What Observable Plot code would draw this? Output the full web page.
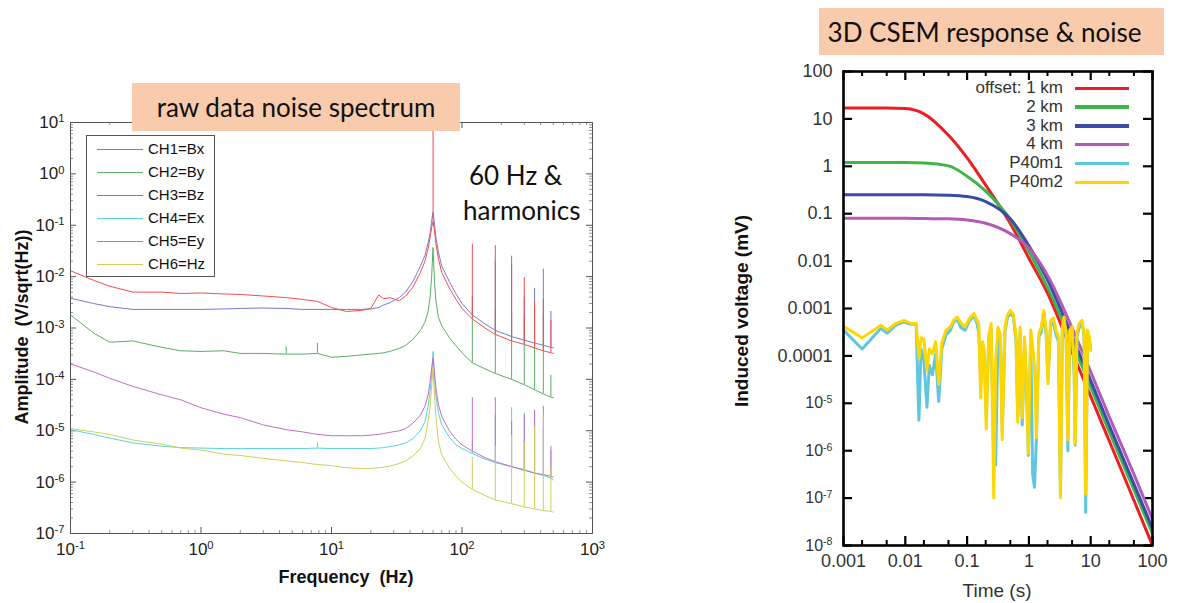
<!DOCTYPE html>
<html><head><meta charset="utf-8">
<script src="https://cdn.jsdelivr.net/npm/d3@7"></script>
<script src="https://cdn.jsdelivr.net/npm/@observablehq/plot@0.6"></script>
<style>
body{margin:0;background:#fff;}
#wrap{position:relative;width:1177px;height:603px;overflow:hidden;font-family:"Liberation Sans",Arial,sans-serif;}
.abs{position:absolute;}
.tbox{position:absolute;background:#F8CBAD;font-family:Lato,sans-serif;font-size:26px;color:#111;display:flex;align-items:center;justify-content:center;white-space:pre;}
.lab{position:absolute;white-space:pre;transform:translate(-50%,-50%);color:#111;}
.note{position:absolute;font-family:Lato,sans-serif;font-size:26px;line-height:30px;color:#111;white-space:pre;}
</style></head><body><div id="wrap"></div>
<script>
// ---------- left panel: raw data noise spectrum ----------
const freqHz = [0.1,0.15,0.2,0.3,0.5,0.7,1,1.5,2,3,4.5,6,7.8,10,13,17,20,23,25,28,33,37,42,48,52,55,57,58.5,60,61.5,63,66,70,80,90,100,120,150,180,240,300,360,420,480,500];
const ch1Bx = [3.8e-3,3.0e-3,2.6e-3,2.3e-3,2.3e-3,2.3e-3,2.3e-3,2.35e-3,2.4e-3,2.45e-3,2.4e-3,2.3e-3,2.3e-3,2.3e-3,2.3e-3,2.3e-3,2.35e-3,2.5e-3,2.8e-3,3.1e-3,3.9e-3,5e-3,8e-3,1.6e-2,2.6e-2,4.5e-2,7e-2,1.2e-1,1.8e-1,1.1e-1,6e-2,3e-2,1.6e-2,8e-3,4.6e-3,3.0e-3,1.8e-3,1.2e-3,9e-4,6.8e-4,5.8e-4,5.1e-4,4.6e-4,4.2e-4,4.1e-4];
const ch2By = [1.8e-3,8e-4,5.3e-4,5.6e-4,4.2e-4,3.6e-4,3.5e-4,3.6e-4,3.2e-4,3.2e-4,3.1e-4,3.1e-4,3.2e-4,2.7e-4,2.8e-4,3.0e-4,3.1e-4,3.2e-4,3.3e-4,3.5e-4,4.0e-4,4.6e-4,6e-4,9e-4,1.3e-3,2.1e-3,4e-3,1e-2,3.7e-2,8e-3,3.5e-3,1.6e-3,1.1e-3,6.5e-4,4.5e-4,3.3e-4,2.1e-4,1.6e-4,1.3e-4,1.0e-4,7.9e-5,6.3e-5,5.2e-5,4.5e-5,4.4e-5];
const ch3Bz = [1.3e-2,8.5e-3,6.5e-3,5.0e-3,5.0e-3,4.7e-3,4.8e-3,4.6e-3,4.5e-3,4.2e-3,3.9e-3,3.6e-3,3.3e-3,2.5e-3,2.1e-3,2.2e-3,2.4e-3,4.4e-3,3.7e-3,3.9e-3,3.4e-3,4.2e-3,6.2e-3,1.2e-2,2e-2,3.5e-2,6e-2,9e-2,1.2e-1,8e-2,4.5e-2,2.2e-2,1.2e-2,6e-3,3.6e-3,2.4e-3,1.5e-3,1.0e-3,7.5e-4,5.6e-4,4.8e-4,4.1e-4,3.6e-4,3.3e-4,3.2e-4];
const ch4Ex = [1.05e-5,8.5e-6,7.2e-6,5.8e-6,5.0e-6,4.7e-6,4.6e-6,4.5e-6,4.5e-6,4.5e-6,4.5e-6,4.5e-6,4.6e-6,4.5e-6,4.5e-6,4.5e-6,4.5e-6,4.6e-6,4.7e-6,4.9e-6,5.3e-6,5.8e-6,7e-6,1.0e-5,1.5e-5,3e-5,6e-5,1.2e-4,3.5e-4,1.1e-4,5e-5,2.2e-5,1.3e-5,7.5e-6,5.3e-6,4.5e-6,3.6e-6,2.8e-6,2.4e-6,2.0e-6,1.75e-6,1.5e-6,1.35e-6,1.2e-6,1.1e-6];
const ch5Ey = [2.0e-4,1.4e-4,1.05e-4,7.3e-5,5.0e-5,4.0e-5,2.8e-5,2.1e-5,1.8e-5,1.3e-5,1.05e-5,9.5e-6,8.5e-6,8.0e-6,8.0e-6,8.0e-6,8.2e-6,8.5e-6,8.8e-6,9.3e-6,1.0e-5,1.1e-5,1.4e-5,2.0e-5,3.0e-5,5e-5,9e-5,1.6e-4,2.6e-4,1.4e-4,7e-5,3.2e-5,1.9e-5,1.0e-5,6.8e-6,5.3e-6,4.0e-6,3.0e-6,2.5e-6,2.0e-6,1.7e-6,1.5e-6,1.4e-6,1.3e-6,1.25e-6];
const ch6Hz = [1.1e-5,9.5e-6,8.5e-6,6.6e-6,5.5e-6,4.6e-6,4.2e-6,3.5e-6,3.3e-6,2.9e-6,2.6e-6,2.4e-6,2.2e-6,2.1e-6,1.9e-6,1.85e-6,1.85e-6,1.9e-6,1.95e-6,2.05e-6,2.3e-6,2.6e-6,3.2e-6,4.5e-6,7e-6,1.5e-5,3e-5,7e-5,1.7e-4,5e-5,2e-5,6e-6,3.4e-6,1.9e-6,1.3e-6,1.0e-6,7.2e-7,5.5e-7,4.5e-7,3.8e-7,3.3e-7,3.0e-7,2.8e-7,2.7e-7,2.6e-7];
const chNames = ["CH1=Bx","CH2=By","CH3=Bz","CH4=Ex","CH5=Ey","CH6=Hz"];
const chColors = ["#757BD0","#5BAE66","#F24E4E","#5CD2D8","#C46DC7","#CFCF5A"];
const harmonicsHz = [120,180,240,300,360,420,480];
const harmonicPeakBx = [4e-3,2e-2,2.5e-2,4e-3,5.9e-3,1.4e-2,2.1e-3];
const harmonicPeakBy = [2.3e-3,2.3e-3,1.9e-3,1.6e-3,2.3e-3,1.8e-3,1.2e-4];
const harmonicPeakBz = [4.3e-2,4e-2,1.7e-2,9.5e-3,3.2e-3,3.6e-3,1.4e-3];
const harmonicPeakEx = [6e-6,2e-5,2.8e-5,2.2e-5,2.5e-5,1.2e-5,4e-6];
const harmonicPeakEy = [4.4e-5,4.4e-5,1.5e-5,2e-5,2.5e-5,3e-5,5e-6];
const harmonicPeakHz = [3e-6,5e-6,8e-6,6e-6,1.2e-5,2e-5,2e-6];
const extraSpikeChannel = ["CH3=Bz","CH2=By","CH2=By","CH4=Ex"];
const extraSpikeHz = [60,4.5,7.8,7.8];
const extraSpikePeak = [8,4.3e-4,5e-4,5.8e-6];

// ---------- right panel: 3D CSEM response & noise ----------
const timeS = [0.001,0.002,0.005,0.01,0.02,0.05,0.1,0.2,0.5,1,2,5,10,20,50,100];
const offset1km = [17,17,17,16.5,12.8,4.5,1.5,0.40,0.062,0.0115,2.1e-3,1.2e-4,1.4e-5,1.6e-6,9e-8,1.0e-8];
const offset2km = [1.2,1.2,1.2,1.2,1.18,1.02,0.62,0.30,0.075,0.016,2.8e-3,1.9e-4,2.2e-5,2.5e-6,1.5e-7,1.8e-8];
const offset3km = [0.25,0.25,0.25,0.25,0.25,0.245,0.23,0.18,0.078,0.021,4.0e-3,2.6e-4,3.0e-5,3.4e-6,2.0e-7,2.3e-8];
const offset4km = [0.08,0.08,0.08,0.08,0.079,0.078,0.074,0.063,0.038,0.019,5.0e-3,3.9e-4,4.6e-5,5.2e-6,3.2e-7,3.6e-8];
const noiseTimeS = [0.001,0.002,0.004,0.0051,0.0069,0.0095,0.012,0.015,0.0166,0.018,0.02,0.0224,0.0245,0.0275,0.031,0.0347,0.039,0.0457,0.0537,0.06,0.069,0.079,0.093,0.11,0.129,0.145,0.155,0.166,0.178,0.19,0.204,0.224,0.245,0.27,0.29,0.316,0.347,0.37,0.41,0.447,0.5,0.56,0.62,0.66,0.72,0.78,0.85,0.91,0.98,1.07,1.15,1.23,1.32,1.45,1.58,1.74,1.9,2.04,2.24,2.5,2.75,3.0,3.24,3.47,3.7,4.0,4.27,4.57,5.0,5.4,5.6,6.0,6.5,7.2,7.8,8.3,8.9,9.5,10];
const p40m1 = [3.5e-4,1.4e-4,3.8e-4,3.0e-4,4.4e-4,5.2e-4,4.7e-4,4.6e-4,4.4e-6,1.4e-4,
 7.9e-5,8.3e-6,6.3e-5,4.0e-5,1.1e-4,1.1e-5,1.4e-4,2.8e-4,3.5e-4,5.0e-4,
 6.0e-4,4.0e-4,3.5e-4,5.6e-4,7.1e-4,4.8e-4,3.0e-4,2.5e-5,1.6e-4,8.9e-5,
 5.0e-6,2.2e-4,3.8e-4,5.6e-7,5.0e-7,3.2e-4,2.2e-4,2.5e-6,3.2e-4,6.3e-4,
 7.9e-4,6.6e-4,2.0e-4,5.0e-6,3.2e-4,3.5e-6,1.8e-4,2.5e-5,7.9e-7,2.5e-4,
 3.2e-7,1.7e-7,1.6e-6,2.5e-4,3.2e-4,7.9e-4,2.8e-4,3.2e-5,4.5e-4,5.0e-4,
 2.8e-4,2.0e-4,1.3e-7,3.2e-4,5.6e-4,2.5e-4,1.0e-6,2.8e-4,3.5e-4,4.0e-5,
 1.3e-6,2.5e-4,4.0e-4,5.0e-4,2.8e-4,5.0e-8,3.2e-4,2.2e-4,1.4e-4];
const p40m2 = [4.2e-4,2.4e-4,4.4e-4,3.5e-4,4.8e-4,5.6e-4,4.9e-4,4.8e-4,8.9e-5,2.4e-4,
 2.2e-4,5.0e-5,1.4e-4,1.1e-4,2.0e-4,2.5e-5,1.9e-4,3.5e-4,4.1e-4,5.6e-4,
 6.6e-4,5.0e-4,4.1e-4,6.3e-4,7.8e-4,5.6e-4,4.4e-4,1.3e-5,2.0e-4,1.3e-4,
 2.9e-6,2.8e-4,4.8e-4,1.0e-7,7.9e-5,4.0e-4,2.8e-4,1.7e-6,4.0e-4,7.1e-4,
 9.1e-4,7.6e-4,2.5e-4,4.0e-6,4.0e-4,5.0e-6,2.5e-4,3.5e-5,8.7e-7,3.5e-4,
 1.6e-4,6.3e-5,1.9e-6,3.0e-4,4.0e-4,9.1e-4,3.5e-4,2.6e-5,5.6e-4,6.3e-4,
 3.5e-4,2.5e-4,1.0e-7,4.0e-4,6.6e-4,3.0e-4,1.7e-6,3.5e-4,4.1e-4,6.3e-5,
 1.4e-6,3.2e-4,4.8e-4,5.6e-4,3.2e-4,1.2e-7,3.5e-4,2.5e-4,1.3e-4];
const seriesNames = ["offset: 1 km","2 km","3 km","4 km","P40m1","P40m2"];
const seriesColors = ["#EE1C25","#3DB54A","#3B4BA6","#B35AB8","#5EC6DE","#FFD700"];
const rightXTickText = ["0.001","0.01","0.1","1","10","100"];
const rightYTickText = ["10^-8","10^-7","10^-6","10^-5","0.0001","0.001","0.01","0.1","1","10","100"];

// ---------- helpers ----------
const NS = "http://www.w3.org/2000/svg";
function supify(svg){
  svg.querySelectorAll("text").forEach(t=>{
    const m = /^10\^(-?\d+)$/.exec(t.textContent);
    if(!m) return;
    t.textContent = "";
    const a = document.createElementNS(NS,"tspan"); a.textContent = "10";
    const b = document.createElementNS(NS,"tspan"); b.textContent = m[1];
    b.setAttribute("dy","-0.5em"); b.setAttribute("font-size","0.66em");
    t.append(a,b);
  });
}
function decades(lo,hi){ const o=[]; for(let e=lo;e<=hi;e++) o.push(+(`1e${e}`)); return o; }
function minors(lo,hi,mults){ const o=[]; for(let e=lo;e<hi;e++) for(const m of mults) o.push(+(`${m}e${e}`)); return o; }
function sideTicks(xs, ys, len, PW, PH, stroke, sw){
  return [
    Plot.ruleX(xs,{x:d=>d, insetTop:PH-len, stroke, strokeWidth:sw}),
    Plot.ruleX(xs,{x:d=>d, insetBottom:PH-len, stroke, strokeWidth:sw}),
    Plot.ruleY(ys,{y:d=>d, insetRight:PW-len, stroke, strokeWidth:sw}),
    Plot.ruleY(ys,{y:d=>d, insetLeft:PW-len, stroke, strokeWidth:sw})
  ];
}
const wrap = document.getElementById("wrap");
function place(el, x, y){ const d=document.createElement("div"); d.className="abs"; d.style.left=x+"px"; d.style.top=y+"px"; d.appendChild(el); wrap.appendChild(d); return d; }
function html(s){ const t=document.createElement("template"); t.innerHTML=s.trim(); return t.content.firstChild; }

// ---------- left plot ----------
{
  const W=620,H=603,ML=70,MR=28,MT=122,MB=70, PW=W-ML-MR, PH=H-MT-MB;
  const chValues=[ch1Bx,ch2By,ch3Bz,ch4Ex,ch5Ey,ch6Hz];
  const peaks=[harmonicPeakBx,harmonicPeakBy,harmonicPeakBz,harmonicPeakEx,harmonicPeakEy,harmonicPeakHz];
  const spectrum = chNames.flatMap((ch,i)=>freqHz.map((f,j)=>({ch,f,a:chValues[i][j]})));
  const spikes = chNames.flatMap((ch,i)=>harmonicsHz.map((f,k)=>({ch,f,base:chValues[i][freqHz.indexOf(f)],peak:peaks[i][k]})));
  const extra = extraSpikeHz.map((f,k)=>{const i=chNames.indexOf(extraSpikeChannel[k]); return {ch:extraSpikeChannel[k],f,base:chValues[i][freqHz.indexOf(f)],peak:extraSpikePeak[k]};});
  const xMaj=decades(-1,3), yMaj=decades(-7,1);
  const svg = Plot.plot({
    width:W,height:H,marginLeft:ML,marginRight:MR,marginTop:MT,marginBottom:MB,
    style:{fontFamily:"Liberation Sans, Arial, sans-serif",background:"transparent",overflow:"visible"},
    x:{type:"log",domain:[0.1,1000],axis:null},
    y:{type:"log",domain:[1e-7,10],axis:null},
    color:{domain:chNames,range:chColors},
    marks:[
      ...sideTicks(minors(-1,3,[2,3,4,5,6,7,8,9]), minors(-7,1,[2,3,4,5,6,7,8,9]), 3, PW, PH, "#777", 0.8),
      ...sideTicks(xMaj, yMaj, 6, PW, PH, "#555", 1),
      Plot.line(spectrum,{x:"f",y:"a",z:"ch",stroke:"ch",strokeWidth:1,clip:true}),
      Plot.ruleX(spikes,{x:"f",y1:"base",y2:"peak",stroke:"ch",strokeWidth:1}),
      Plot.ruleX(extra,{x:"f",y1:"base",y2:"peak",stroke:"ch",strokeWidth:1,clip:true}),
      Plot.frame({stroke:"#555",strokeWidth:1}),
      Plot.text(xMaj,{x:d=>d,frameAnchor:"bottom",dy:21,text:d=>"10^"+Math.round(Math.log10(d)),fontSize:17,fill:"#222"}),
      Plot.text(yMaj,{y:d=>d,frameAnchor:"left",dx:-6,textAnchor:"end",text:d=>"10^"+Math.round(Math.log10(d)),fontSize:17,fill:"#222"})
    ]
  });
  supify(svg);
  place(svg,0,0);
}

// ---------- right plot ----------
{
  const W=477,H=603,ML=143,MR=25,MT=71,MB=58, PW=W-ML-MR, PH=H-MT-MB;
  const offs=[offset1km,offset2km,offset3km,offset4km];
  const response = seriesNames.slice(0,4).flatMap((s,i)=>timeS.map((t,j)=>({s,t,v:offs[i][j]})));
  const noise1 = noiseTimeS.map((t,j)=>({s:"P40m1",t,v:p40m1[j]}));
  const noise2 = noiseTimeS.map((t,j)=>({s:"P40m2",t,v:p40m2[j]}));
  const xMaj=decades(-3,2), yMaj=decades(-8,2);
  const svg = Plot.plot({
    width:W,height:H,marginLeft:ML,marginRight:MR,marginTop:MT,marginBottom:MB,
    style:{fontFamily:"Liberation Sans, Arial, sans-serif",background:"transparent",overflow:"visible"},
    x:{type:"log",domain:[0.001,100],axis:null},
    y:{type:"log",domain:[1e-8,100],axis:null},
    color:{domain:seriesNames,range:seriesColors},
    marks:[
      Plot.ruleX(minors(-3,2,[2,5]),{x:d=>d,insetTop:PH-5,stroke:"#000",strokeWidth:2}),
      Plot.ruleX(minors(-3,2,[2,5]),{x:d=>d,insetBottom:PH-5,stroke:"#000",strokeWidth:2}),
      ...sideTicks(xMaj, yMaj, 9, PW, PH, "#000", 2.2),
      Plot.line(response,{x:"t",y:"v",z:"s",stroke:"s",strokeWidth:3,curve:"monotone-x",clip:true}),
      Plot.line(noise1,{x:"t",y:"v",stroke:"s",strokeWidth:3,clip:true}),
      Plot.line(noise2,{x:"t",y:"v",stroke:"s",strokeWidth:3,clip:true}),
      Plot.frame({stroke:"#000",strokeWidth:2.6}),
      Plot.text(xMaj,{x:d=>d,frameAnchor:"bottom",dy:21,text:(d,i)=>rightXTickText[i],fontSize:18,fill:"#333"}),
      Plot.text(yMaj,{y:d=>d,frameAnchor:"left",dx:-11,textAnchor:"end",text:(d,i)=>rightYTickText[i],fontSize:(d,i)=>rightYTickText[i].startsWith("10^")?16:18,fill:"#333"})
    ]
  });
  supify(svg);
  place(svg,700,0);
}

// ---------- overlays: titles, notes, legends, axis titles ----------
wrap.appendChild(html(`<div class="tbox" style="left:132px;top:83px;width:328px;height:48px;">raw data noise spectrum</div>`));
wrap.appendChild(html(`<div class="tbox" style="left:819px;top:8px;width:345px;height:47px;padding-right:14px;box-sizing:border-box;">3D CSEM response &amp; noise</div>`));
wrap.appendChild(html(`<div class="note" style="left:469px;top:160px;">60 Hz &amp;</div>`));
wrap.appendChild(html(`<div class="note" style="left:463px;top:195px;">harmonics</div>`));

{
  const box = html(`<div style="position:absolute;left:86px;top:135px;width:127px;height:140px;border:1px solid #555;background:#fff;"></div>`);
  chNames.forEach((n,i)=>{
    const y = 13 + 23*i;
    box.appendChild(html(`<div style="position:absolute;left:10px;top:${y}px;width:46px;height:1.2px;background:${chColors[i]};"></div>`));
    box.appendChild(html(`<div style="position:absolute;left:61px;top:${y-9}px;font-size:15px;line-height:18px;color:#111;">${n}</div>`));
  });
  wrap.appendChild(box);
}
{
  seriesNames.forEach((n,i)=>{
    const y = 88 + 18.8*i;
    wrap.appendChild(html(`<div style="position:absolute;right:${1177-1063}px;top:${y-10}px;font-size:17px;line-height:20px;color:#333;white-space:pre;">${n}</div>`));
    wrap.appendChild(html(`<div style="position:absolute;left:1075px;top:${y-1.5}px;width:54px;height:3.5px;background:${seriesColors[i]};"></div>`));
  });
}
wrap.appendChild(html(`<div class="lab" style="left:22px;top:327px;font-weight:bold;font-size:18px;transform:translate(-50%,-50%) rotate(-90deg);">Amplitude  (V/sqrt(Hz))</div>`));
wrap.appendChild(html(`<div class="lab" style="left:346px;top:577px;font-weight:bold;font-size:18px;">Frequency  (Hz)</div>`));
wrap.appendChild(html(`<div class="lab" style="left:742px;top:311px;font-weight:bold;font-size:19px;transform:translate(-50%,-50%) rotate(-90deg);">Induced voltage (mV)</div>`));
wrap.appendChild(html(`<div class="lab" style="left:997px;top:591px;font-size:19px;color:#333;">Time (s)</div>`));
</script></body></html>
